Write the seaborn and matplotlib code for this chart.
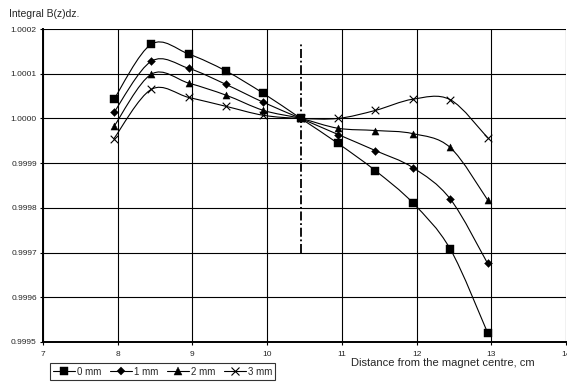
import numpy as np
import pandas as pd
import seaborn as sns
import matplotlib
matplotlib.use("Agg")
import matplotlib.pyplot as plt
from matplotlib.path import Path
from matplotlib.patches import PathPatch
from matplotlib.lines import Line2D
from matplotlib.ticker import FormatStrFormatter

# ---------------- data ----------------
distance_cm = [7.95, 8.45, 8.95, 9.45, 9.95, 10.45, 10.95, 11.45, 11.95, 12.45, 12.95]
series_labels = ["0 mm", "1 mm", "2 mm", "3 mm"]
b_0mm = [1.000043, 1.000166, 1.000144, 1.000106, 1.000056, 1.000000,
         0.999944, 0.999883, 0.999811, 0.999708, 0.999521]
b_1mm = [1.0000135, 1.000128, 1.000112, 1.000076, 1.000036, 1.000000,
         0.999964, 0.999928, 0.999890, 0.999820, 0.999676]
b_2mm = [0.999982, 1.000099, 1.000079, 1.000052, 1.000018, 1.000000,
         0.999978, 0.999973, 0.999966, 0.999935, 0.999818]
b_3mm = [0.999955, 1.000065, 1.000047, 1.000027, 1.000007, 1.000000,
         1.000000, 1.000018, 1.000043, 1.000042, 0.999957]
series_values = [b_0mm, b_1mm, b_2mm, b_3mm]
divider_x = 10.45
divider_range = (0.99970, 1.00017)
x_ticks = [7, 8, 9, 10, 11, 12, 13, 14]
y_ticks = [0.9995, 0.9996, 0.9997, 0.9998, 0.9999, 1.0000, 1.0001, 1.0002]

rows = []
for lab, vals in zip(series_labels, series_values):
    for x, v in zip(distance_cm, vals):
        rows.append({"distance": x, "B": v, "series": lab})
df = pd.DataFrame(rows)

# ---------------- style ----------------
sns.set_style("white")
plt.rcParams["font.family"] = ["Liberation Sans", "DejaVu Sans"]

W, H = 567, 383
fig = plt.figure(figsize=(W / 100, H / 100), dpi=100)
ax = fig.add_axes([43 / W, 1 - 342 / H, (566 - 43) / W, (342 - 29) / H])

markers = {"0 mm": "s", "1 mm": "D", "2 mm": "^", "3 mm": "x"}
msizes = {"0 mm": 26, "1 mm": 16, "2 mm": 26, "3 mm": 30}


def smooth_path(xs, ys):
    pts = np.column_stack([xs, ys])
    n = len(pts)
    verts = [pts[0]]
    codes = [Path.MOVETO]
    for i in range(n - 1):
        p0 = pts[i - 1] if i > 0 else pts[i]
        p1 = pts[i]
        p2 = pts[i + 1]
        p3 = pts[i + 2] if i + 2 < n else pts[i + 1]
        c1 = p1 + (p2 - p0) / 6.0
        c2 = p2 - (p3 - p1) / 6.0
        verts += [c1, c2, p2]
        codes += [Path.CURVE4] * 3
    return Path(verts, codes)


for lab in series_labels:
    sub = df[df["series"] == lab]
    ax.add_patch(PathPatch(smooth_path(sub["distance"].values, sub["B"].values),
                           facecolor="none", edgecolor="black", lw=0.8, zorder=3))
    if markers[lab] == "x":
        sns.scatterplot(data=sub, x="distance", y="B", marker="x", color="black",
                        s=msizes[lab], linewidth=0.8, ax=ax, zorder=4, legend=False)
    else:
        sns.scatterplot(data=sub, x="distance", y="B", marker=markers[lab], color="black",
                        edgecolor="black", s=msizes[lab], linewidth=0.3, ax=ax,
                        zorder=4, legend=False)

ax.plot([divider_x, divider_x], list(divider_range), color="black", lw=1.3,
        linestyle=(0, (5, 1.5, 1, 1.5)), zorder=3)

ax.set_xlim(x_ticks[0], x_ticks[-1])
ax.set_ylim(y_ticks[0], y_ticks[-1])
ax.set_xticks(x_ticks)
ax.set_yticks(y_ticks)
ax.yaxis.set_major_formatter(FormatStrFormatter("%.4f"))
ax.grid(True, color="black", lw=0.8)
ax.set_axisbelow(True)
for s in ["top", "right"]:
    ax.spines[s].set_visible(False)
for s in ["left", "bottom"]:
    ax.spines[s].set_color("black")
    ax.spines[s].set_linewidth(1.4)
ax.tick_params(axis="both", which="major", direction="out", length=2.5, width=0.8,
               color="black", labelsize=6, pad=2, left=True, bottom=True)
ax.tick_params(axis="x", pad=4)
ax.set_xlabel("")
ax.set_ylabel("")

fig.text(9 / W, 1 - 14 / H, "Integral B(z)dz.", fontsize=7.5, va="center", ha="left")
fig.text(443 / W, 1 - 363 / H, "Distance from the magnet centre, cm", fontsize=8,
         va="center", ha="center")

handles = [Line2D([0], [0], color="black", lw=0.8, marker=markers[l],
                  markersize=(5.5 if markers[l] != "D" else 4.5),
                  markeredgewidth=(0.8 if markers[l] == "x" else 0.3),
                  markerfacecolor="black", markeredgecolor="black") for l in series_labels]
leg = fig.legend(handles, series_labels, loc="lower left", bbox_to_anchor=(50 / W, 3 / H),
                 ncol=4, fontsize=7, frameon=True, fancybox=False, edgecolor="black",
                 handlelength=2.2, handletextpad=0.2, columnspacing=0.95, borderpad=0.35,
                 borderaxespad=0)
leg.get_frame().set_linewidth(0.8)

fig.savefig("out.png", dpi=100)
